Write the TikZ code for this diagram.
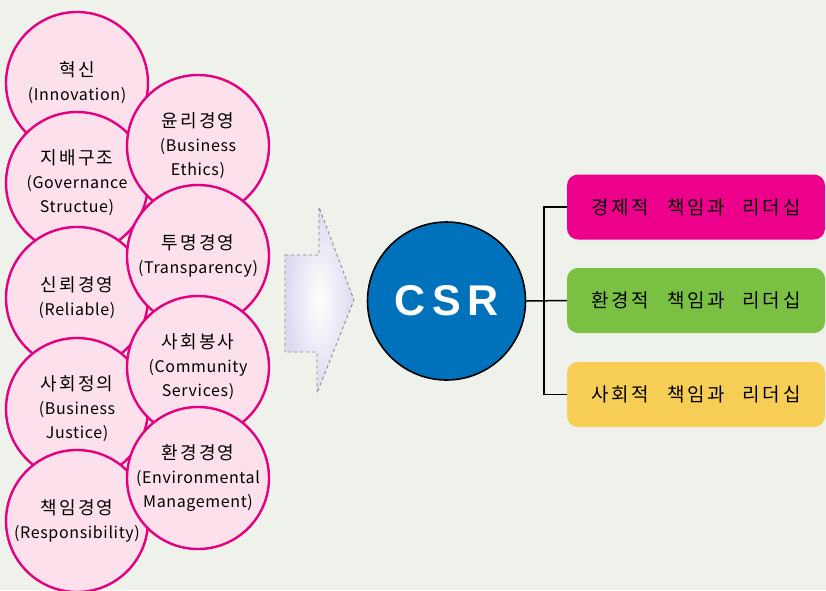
\documentclass[tikz,border=0pt]{standalone}
\usepackage{fontspec}
\setmainfont{Noto Sans CJK KR}
\newfontfamily\krtitle[LetterSpace=12]{Noto Sans CJK KR}
\newfontfamily\krbody[LetterSpace=4]{Noto Sans CJK KR}
\newfontfamily\krbox[LetterSpace=14,WordSpace=2.6]{Noto Sans CJK KR}
\newfontfamily\csrfont[LetterSpace=15]{Liberation Sans}
\definecolor{bgc}{RGB}{238,242,235}
\definecolor{bubfill}{RGB}{252,225,236}
\definecolor{bubline}{RGB}{228,0,127}
\definecolor{csrblue}{RGB}{0,114,188}
\definecolor{boxmag}{RGB}{236,0,140}
\definecolor{boxgreen}{RGB}{122,193,67}
\definecolor{boxyellow}{RGB}{246,205,85}
\definecolor{arrowedge}{RGB}{218,218,240}
\tikzset{
  bub/.style={circle, minimum size=142pt, inner sep=0pt, draw=bubline,
    line width=2.4pt, fill=bubfill, align=center,
    font=\krbody\fontsize{16}{24}\selectfont, text=black},
  csrnode/.style={circle, minimum size=158pt, inner sep=0pt, draw=black,
    line width=1.6pt, fill=csrblue, text=white,
    font=\csrfont\bfseries\fontsize{43}{43}\selectfont},
  resp/.style={rounded corners=11pt, minimum width=258pt, minimum height=65pt,
    inner sep=0pt, text=black, font=\krbox\fontsize{19}{19}\selectfont},
  link/.style={draw=black, line width=1.5pt},
}
\newcommand{\kt}[1]{{\krtitle\fontsize{18}{24}\selectfont #1}}
\begin{document}
\begin{tikzpicture}[x=1pt,y=-1pt]
  % canvas
  \fill[bgc] (0,0) rectangle (826,590);
  \useasboundingbox (0,0) rectangle (826,590);

  % management principles: left column
  \node[bub] (innov) at (77,83)  {\kt{혁신}\\(Innovation)};
  \node[bub] (gov)   at (77,183) {\kt{지배구조}\\(Governance\\Structue)};
  \node[bub] (reli)  at (77,298) {\kt{신뢰경영}\\(Reliable)};
  \node[bub] (just)  at (77,409) {\kt{사회정의}\\(Business\\Justice)};
  \node[bub] (resp)  at (77,521) {\kt{책임경영}\\(Responsibility)};
  % right column, laid over the left one
  \node[bub] (ethic) at (198,146) {\kt{윤리경영}\\(Business\\Ethics)};
  \node[bub] (trans) at (198,256) {\kt{투명경영}\\(Transparency)};
  \node[bub] (comm)  at (198,367) {\kt{사회봉사}\\(Community\\Services)};
  \node[bub] (env)   at (198,478) {\kt{환경경영}\\(Environmental\\Management)};

  % block arrow
  \shade[inner color=white, outer color=arrowedge]
    (285,255) -- (319,255) -- (319,207) -- (354,300) -- (317,393)
    -- (317,352) -- (285,352) -- cycle;
  \draw[dashed, gray, line width=0.8pt]
    (285,255) -- (319,255) -- (319,207) -- (354,300) -- (317,393)
    -- (317,352) -- (285,352) -- cycle;

  % central node
  \node[csrnode] (csr) at (446.5,301) {CSR};

  % responsibility boxes
  \node[resp, fill=boxmag]    (econ)  at (696,207)   {경제적 책임과 리더십};
  \node[resp, fill=boxgreen]  (envr)  at (696,300.5) {환경적 책임과 리더십};
  \node[resp, fill=boxyellow] (soc)   at (696,394.5) {사회적 책임과 리더십};

  % connectors
  \coordinate (jn) at (544,300.5);
  \draw[link] (csr.east) -- (envr.west);
  \draw[link] (econ.west) -| (jn) |- (soc.west);
\end{tikzpicture}
\end{document}
